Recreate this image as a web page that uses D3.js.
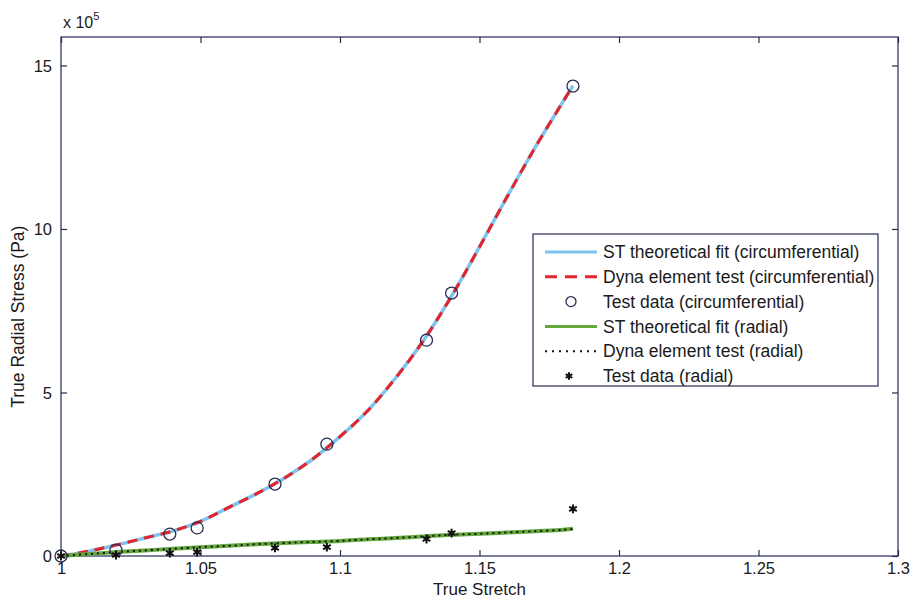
<!DOCTYPE html>
<html>
<head>
<meta charset="utf-8">
<script src="https://cdn.jsdelivr.net/npm/d3@7"></script>
<style>
  body { margin: 0; background: #fff; }
  text { font-family: "Liberation Sans", Arial, sans-serif; fill: #1a1a1a; }
</style>
</head>
<body>
<div id="chart"></div>
<script>
// stretch values on the fitted curves
var fitStretch = [1.00, 1.01, 1.02, 1.03, 1.04, 1.05, 1.06, 1.07, 1.08, 1.09, 1.10,
                  1.11, 1.12, 1.13, 1.14, 1.15, 1.16, 1.17, 1.18, 1.1835];
// stress in 1e5 Pa
var fitCirc = [0, 0.15, 0.34, 0.55, 0.76, 1.06, 1.48, 1.90, 2.38, 2.95, 3.65,
               4.45, 5.45, 6.60, 7.95, 9.45, 11.00, 12.50, 13.90, 14.38];
var dynaCirc = [0, 0.15, 0.34, 0.55, 0.76, 1.06, 1.48, 1.90, 2.38, 2.95, 3.65,
                4.45, 5.45, 6.60, 7.95, 9.45, 11.00, 12.50, 13.90, 14.38];
var fitRad = [0, 0.06, 0.12, 0.17, 0.22, 0.27, 0.31, 0.36, 0.40, 0.43, 0.46,
              0.51, 0.55, 0.60, 0.65, 0.68, 0.72, 0.76, 0.80, 0.83];
var dynaRad = [0, 0.06, 0.12, 0.17, 0.22, 0.27, 0.31, 0.36, 0.40, 0.43, 0.46,
               0.51, 0.55, 0.60, 0.65, 0.68, 0.72, 0.76, 0.80, 0.83];

// test points
var testStretch = [1.0, 1.0197, 1.039, 1.0488, 1.0767, 1.0953, 1.131, 1.140, 1.1835];
var testCirc = [0, 0.18, 0.67, 0.86, 2.2, 3.42, 6.6, 8.04, 14.37];
var testRad = [0, 0.03, 0.09, 0.12, 0.25, 0.27, 0.52, 0.70, 1.44];

var xTicks = [1, 1.05, 1.1, 1.15, 1.2, 1.25, 1.3];
var yTicks = [0, 5, 10, 15];

var legendLabels = [
  'ST theoretical fit (circumferential)',
  'Dyna element test (circumferential)',
  'Test data (circumferential)',
  'ST theoretical fit (radial)',
  'Dyna element test (radial)',
  'Test data (radial)'
];

var W = 910, H = 599;
var margin = {top: 37, right: 12, bottom: 43, left: 61};
var axisColor = '#262a55';
var blue = '#7fc4ec', red = '#e5232b', green = '#64a83c';
var fs = '17.5px';

var svg = d3.select('#chart').append('svg')
  .attr('width', W).attr('height', H);

var x = d3.scaleLinear().domain([1, 1.3]).range([margin.left, W - margin.right]);
var y = d3.scaleLinear().domain([0, 15.87]).range([H - margin.bottom, margin.top]);

var plotW = W - margin.left - margin.right;
var plotH = H - margin.top - margin.bottom;

// box
svg.append('rect')
  .attr('x', margin.left).attr('y', margin.top)
  .attr('width', plotW).attr('height', plotH)
  .attr('fill', 'none').attr('stroke', axisColor).attr('stroke-width', 1.2);

// axes
var fmtX = function(d) { return String(+d.toFixed(2)); };
var xAxis = svg.append('g')
  .attr('transform', 'translate(0,' + (H - margin.bottom) + ')')
  .call(d3.axisBottom(x).tickValues(xTicks).tickSize(-6).tickPadding(6).tickFormat(fmtX));
var xTop = svg.append('g')
  .attr('transform', 'translate(0,' + margin.top + ')')
  .call(d3.axisTop(x).tickValues(xTicks).tickSize(-6).tickFormat(''));
var yAxis = svg.append('g')
  .attr('transform', 'translate(' + margin.left + ',0)')
  .call(d3.axisLeft(y).tickValues(yTicks).tickSize(-6).tickPadding(9));
var yRight = svg.append('g')
  .attr('transform', 'translate(' + (W - margin.right) + ',0)')
  .call(d3.axisRight(y).tickValues(yTicks).tickSize(-6).tickFormat(''));

[xAxis, xTop, yAxis, yRight].forEach(function(g) {
  g.select('.domain').remove();
  g.selectAll('line').attr('stroke', axisColor).attr('stroke-width', 1.2);
  g.selectAll('text').style('font-size', '16.5px').attr('fill', '#1a1a1a');
});
yAxis.selectAll('text').attr('dy', '0.35em');

// exponent label
var expo = svg.append('text').attr('x', 63).attr('y', 28).style('font-size', '16px');
expo.append('tspan').text('x 10');
expo.append('tspan').attr('dy', -8).style('font-size', '11px').text('5');

// axis titles
svg.append('text')
  .attr('x', x(1.15)).attr('y', 595)
  .attr('text-anchor', 'middle').style('font-size', '17px')
  .text('True Stretch');
svg.append('text')
  .attr('transform', 'translate(24,' + (y(7.5) + 6) + ') rotate(-90)')
  .attr('text-anchor', 'middle').style('font-size', fs)
  .text('True Radial Stress (Pa)');

var line = d3.line()
  .x(function(d) { return x(d[0]); })
  .y(function(d) { return y(d[1]); })
  .curve(d3.curveCatmullRom);

function pairs(xs, ys) { return xs.map(function(v, i) { return [v, ys[i]]; }); }

var plot = svg.append('g');

plot.append('path').datum(pairs(fitStretch, fitCirc))
  .attr('d', line).attr('fill', 'none').attr('stroke', blue).attr('stroke-width', 3.5);
plot.append('path').datum(pairs(fitStretch, dynaCirc))
  .attr('d', line).attr('fill', 'none').attr('stroke', red).attr('stroke-width', 3)
  .attr('stroke-dasharray', '10,7');
plot.append('path').datum(pairs(fitStretch, fitRad))
  .attr('d', line).attr('fill', 'none').attr('stroke', green).attr('stroke-width', 4);
plot.append('path').datum(pairs(fitStretch, dynaRad))
  .attr('d', line).attr('fill', 'none').attr('stroke', '#111').attr('stroke-width', 2)
  .attr('stroke-dasharray', '2,4');

// circle markers
plot.selectAll('.circ').data(pairs(testStretch, testCirc)).enter()
  .append('circle')
  .attr('cx', function(d) { return x(d[0]); })
  .attr('cy', function(d) { return y(d[1]); })
  .attr('r', 6)
  .attr('fill', 'none').attr('stroke', '#2a2d50').attr('stroke-width', 1.3);

// star markers
var star = d3.symbol().type(d3.symbolAsterisk).size(55);
plot.selectAll('.star').data(pairs(testStretch, testRad)).enter()
  .append('path')
  .attr('d', star)
  .attr('transform', function(d) { return 'translate(' + x(d[0]) + ',' + y(d[1]) + ')'; })
  .attr('fill', 'none').attr('stroke', '#111').attr('stroke-width', 2);

// legend
var lg = svg.append('g');
lg.append('rect')
  .attr('x', 533).attr('y', 234).attr('width', 345).attr('height', 152)
  .attr('fill', '#fff').attr('stroke', axisColor).attr('stroke-width', 1.2);

var rowY = function(i) { return 252 + i * 24.8; };
legendLabels.forEach(function(lbl, i) {
  var yy = rowY(i);
  if (i === 0) lg.append('line').attr('x1', 545).attr('x2', 597).attr('y1', yy).attr('y2', yy)
    .attr('stroke', blue).attr('stroke-width', 3);
  if (i === 1) lg.append('line').attr('x1', 545).attr('x2', 597).attr('y1', yy).attr('y2', yy)
    .attr('stroke', red).attr('stroke-width', 3).attr('stroke-dasharray', '12,8');
  if (i === 2) lg.append('circle').attr('cx', 571).attr('cy', yy).attr('r', 5)
    .attr('fill', 'none').attr('stroke', '#2a2d50').attr('stroke-width', 1.3);
  if (i === 3) lg.append('line').attr('x1', 545).attr('x2', 597).attr('y1', yy).attr('y2', yy)
    .attr('stroke', green).attr('stroke-width', 3);
  if (i === 4) lg.append('line').attr('x1', 545).attr('x2', 597).attr('y1', yy).attr('y2', yy)
    .attr('stroke', '#111').attr('stroke-width', 2).attr('stroke-dasharray', '2,5');
  if (i === 5) lg.append('path').attr('d', d3.symbol().type(d3.symbolAsterisk).size(40))
    .attr('transform', 'translate(569,' + yy + ')')
    .attr('fill', 'none').attr('stroke', '#111').attr('stroke-width', 2);
  lg.append('text').attr('x', 603).attr('y', yy).attr('dy', '0.35em')
    .style('font-size', fs).text(lbl);
});
</script>
</body>
</html>
